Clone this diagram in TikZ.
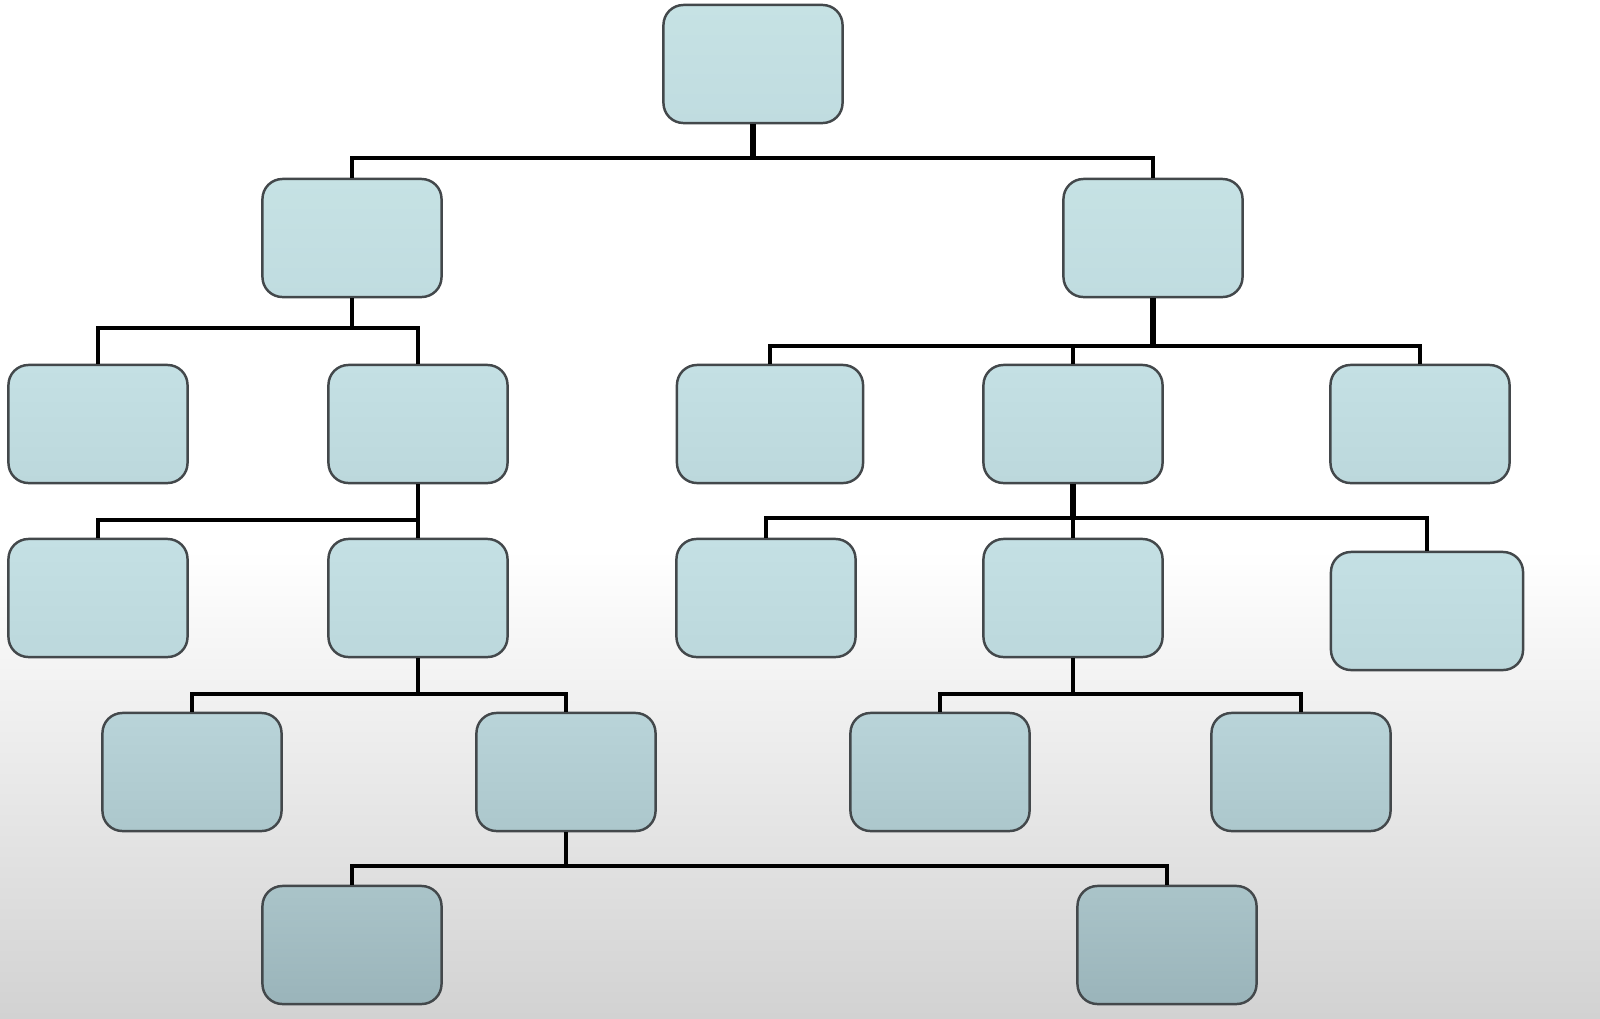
\documentclass[tikz,border=0pt]{standalone}
\usetikzlibrary{calc}
\definecolor{bgbot}{HTML}{D2D2D2}
\definecolor{boxedge}{HTML}{43484B}
\tikzset{
  box/.style={draw=boxedge, line width=0.7pt, rounded corners=0.2cm,
    minimum width=1.79cm, minimum height=1.18cm, inner sep=0pt},
  lvA/.style={box, top color={rgb,255:red,198;green,226;blue,228}, bottom color={rgb,255:red,192;green,220;blue,224}},
  lvB/.style={box, top color={rgb,255:red,196;green,224;blue,228}, bottom color={rgb,255:red,188;green,216;blue,220}},
  lvC/.style={box, top color={rgb,255:red,185;green,212;blue,217}, bottom color={rgb,255:red,172;green,199;blue,204}},
  lvD/.style={box, top color={rgb,255:red,170;green,196;blue,201}, bottom color={rgb,255:red,154;green,180;blue,186}},
  link/.style={line width=1.3pt, line join=miter}
}
\begin{document}
\begin{tikzpicture}[x=0.01cm,y=-0.01cm]
\useasboundingbox (0,0) rectangle (1600,1018);
\fill[white] (0,0) rectangle (1600,550);
\shade[top color=white, bottom color=bgbot] (0,549) rectangle (1600,1018);
% nodes
\node[lvA] (r) at (753,64) {};
\node[lvA] (a) at (352,238) {};
\node[lvA] (b) at (1153,238) {};
\node[lvB] (a1) at (98,424) {};
\node[lvB] (a2) at (418,424) {};
\node[lvB, minimum width=1.86cm] (b1) at (770,424) {};
\node[lvB] (b2) at (1073,424) {};
\node[lvB] (b3) at (1420,424) {};
\node[lvB] (c1) at (98,598) {};
\node[lvB] (c2) at (418,598) {};
\node[lvB] (d1) at (766,598) {};
\node[lvB] (d2) at (1073,598) {};
\node[lvB, minimum width=1.92cm] (d3) at (1427,611) {};
\node[lvC] (e1) at (192,772) {};
\node[lvC] (e2) at (566,772) {};
\node[lvC] (f1) at (940,772) {};
\node[lvC] (f2) at (1301,772) {};
\node[lvD] (g1) at (352,945) {};
\node[lvD] (g2) at (1167,945) {};
% bus levels
\coordinate (y0) at (0,158);
\coordinate (ya) at (0,328);
\coordinate (yb) at (0,346);
\coordinate (yc) at (0,520);
\coordinate (yd) at (0,518);
\coordinate (ye) at (0,694);
\coordinate (yf) at (0,694);
\coordinate (yg) at (0,866);
% connectors
\foreach \p/\c/\y in {r/a/y0, r/b/y0, a/a1/ya, a/a2/ya, b/b1/yb, b/b2/yb, b/b3/yb,
  a2/c1/yc, a2/c2/yc, b2/d1/yd, b2/d2/yd, b2/d3/yd, c2/e1/ye, c2/e2/ye,
  d2/f1/yf, d2/f2/yf, e2/g1/yg, e2/g2/yg}
  \draw[link] (\p.south) -- (\p.south |- \y) -| (\c.north);
% thicker stems
\draw[link, line width=1.7pt] (r.south) -- (r.south |- y0);
\draw[link, line width=1.7pt] (b.south) -- (b.south |- yb);
\draw[link, line width=1.7pt] (b2.south) -- (b2.south |- yd);
\end{tikzpicture}
\end{document}
